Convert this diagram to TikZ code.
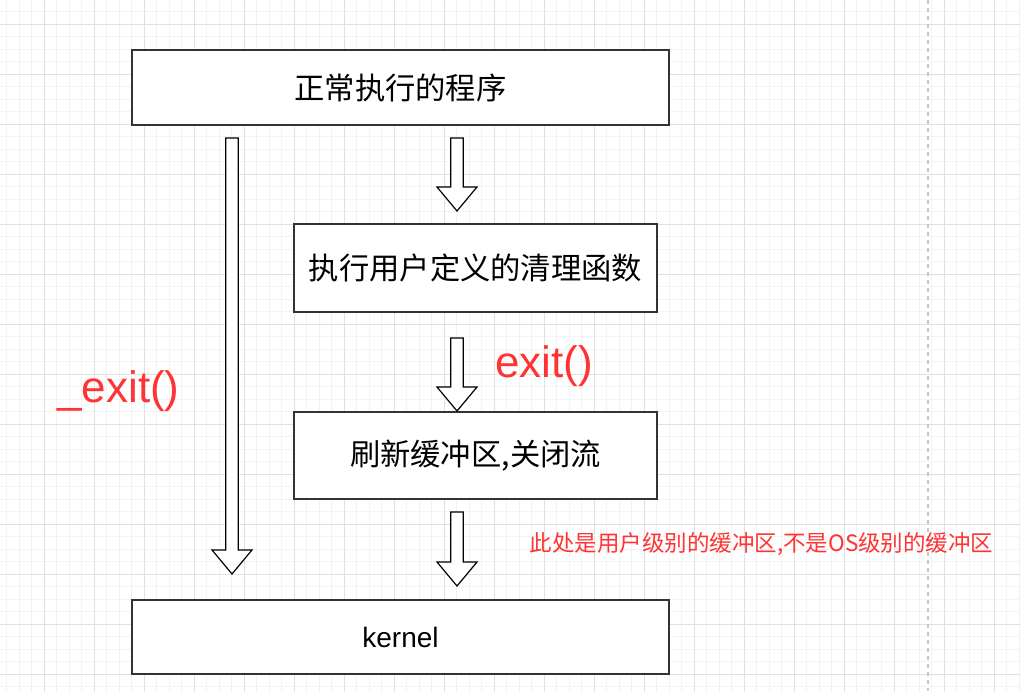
\documentclass[tikz,border=0pt]{standalone}
\usepackage{fontspec}
\setmainfont{Liberation Sans}
\newfontfamily\cjk{Noto Sans CJK SC}
\usetikzlibrary{positioning}

\definecolor{gridminor}{RGB}{243,243,243}
\definecolor{gridmajor}{RGB}{224,224,224}
\definecolor{notered}{RGB}{255,51,51}

% block arrow: centre x, top y, tip y
\newcommand{\blkarrow}[3]{%
  \draw[arrowbody] (#1-6.3,#2) -- (#1+6.3,#2) -- (#1+6.3,#3-24) -- (#1+20,#3-24)
    -- (#1,#3) -- (#1-20,#3-24) -- (#1-6.3,#3-24) -- cycle;}

\tikzset{
  procbox/.style={draw=black!80, line width=1.2pt, fill=white, inner sep=0pt,
    font={\cjk\fontsize{30.3}{35}\selectfont}},
  arrowbody/.style={draw=black, line width=1.2pt, fill=white, line join=miter},
  notetext/.style={text=notered, inner sep=0pt}
}

\begin{document}
\begin{tikzpicture}[x=1pt, y=-1pt]
  \useasboundingbox (0,0) rectangle (1020,691);
  \clip (0,0) rectangle (1020,691);
  % background grid
  \fill[white] (0,0) rectangle (1020,691);
  \begin{scope}[shift={(6.8,11.8)}]
    \draw[gridminor, line width=1pt, step=12.5pt] (-25,725) grid (1050,-25);
  \end{scope}
  \begin{scope}[shift={(44.3,24.3)}]
    \draw[gridmajor, line width=1pt, step=50pt] (-100,750) grid (1050,-100);
  \end{scope}
  \draw[black!22, line width=1.2pt, dash pattern=on 4pt off 4pt] (928,0) -- (928,691);

  % boxes
  \node[procbox, minimum width=537, minimum height=75] (prog) at (400.5,87.5) {正常执行的程序};
  \node[procbox, minimum width=363, minimum height=88] (clean) at (475.5,268) {执行用户定义的清理函数};
  \node[procbox, minimum width=363, minimum height=87] (flush) at (475.5,455.5) {刷新缓冲区,关闭流};
  \node[procbox, minimum width=537, minimum height=74, font=\fontsize{28}{32}\selectfont] (kernel) at (400.5,637) {kernel};

  % arrows
  \blkarrow{457}{138}{211}
  \blkarrow{457}{338}{411}
  \blkarrow{457}{512}{586}
  \blkarrow{232}{138}{574}

  % labels
  \node[notetext, font=\fontsize{44}{50}\selectfont] (exitlbl) at (544,366) {exit()};
  \node[notetext, font=\fontsize{44}{50}\selectfont] (uexitlbl) at (118.5,391) {\_exit()};
  \node[notetext, font={\cjk\fontsize{22.5}{26}\selectfont}] (note) at (761.5,544) {此处是用户级别的缓冲区,不是OS级别的缓冲区};
\end{tikzpicture}
\end{document}
